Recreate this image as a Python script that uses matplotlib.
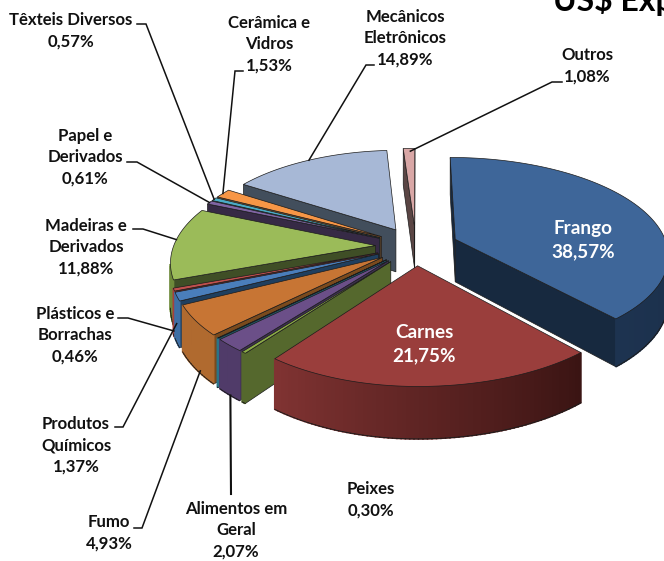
import numpy as np
import matplotlib
matplotlib.use('Agg')
import matplotlib.pyplot as plt

plt.rcParams['font.family'] = ['Lato', 'DejaVu Sans']

# slices, clockwise from the top (the teal one has no label in the original)
names = ['Frango', 'Carnes', 'Peixes', 'Alimentos em\nGeral', '', 'Fumo', 'Produtos\nQuímicos',
         'Plásticos e\nBorrachas', 'Madeiras e\nDerivados', 'Papel e\nDerivados',
         'Têxteis Diversos', 'Cerâmica e\nVidros', 'Mecânicos\nEletrônicos', 'Outros']
values = [38.57, 21.75, 0.30, 2.07, 0.06, 4.93, 1.37, 0.46, 11.88, 0.61, 0.57, 1.53, 14.89, 1.08]
value_labels = ['38,57%', '21,75%', '0,30%', '2,07%', '', '4,93%', '1,37%',
                '0,46%', '11,88%', '0,61%', '0,57%', '1,53%', '14,89%', '1,08%']

top_colors = ['#3E6699', '#9A3E3C', '#8CAB47', '#6B4F88', '#31859C', '#C77534', '#4A7EBB',
              '#C0504D', '#9BBB59', '#8064A2', '#4BACC6', '#F79646', '#A7B8D6', '#D9A7A6']
cut_colors = ['#17293F', '#4A1A18', '#55682D', '#3E2E52', '#1D5566', '#7A4A1D', '#1F3F5F',
              '#6E2A28', '#3F4E26', '#362A45', '#26697A', '#8A5325', '#424E5C', '#5A4544']
wall_start = ['#17293F', '#3A1413', '#55682D', '#503B69', '#2A7488', '#B06A2F', '#3E6FA5',
              '#A5403E', '#6E8A3A', '#5F4A7A', '#3A8CA2', '#C77534', '#6E7F9C', '#B08A89']
wall_end = ['#1D3350', '#803332', '#55682D', '#503B69', '#2A7488', '#B06A2F', '#3E6FA5',
            '#A5403E', '#6E8A3A', '#5F4A7A', '#3A8CA2', '#C77534', '#6E7F9C', '#B08A89']

# pie geometry in pixels
cx, cy = 416, 246
rx_right, rx_left = 212, 202
ry = 96
persp = 0.15
explode = 0.2
depth = 43


def project(px, py, z=0):
    s = 1 / (1 + persp * py)
    rx = rx_right if px > 0 else rx_left
    return cx + rx * px * s, cy - ry * py * s + depth * z * s


def slice_point(mid, theta, r=1.0, z=0):
    px = explode * np.sin(mid) + r * np.sin(theta)
    py = explode * np.cos(mid) + r * np.cos(theta)
    return project(px, py, z)


def area(pts):
    x, y = np.array(pts).T
    return 0.5 * np.sum(x * np.roll(y, -1) - np.roll(x, -1) * y)


def mix(c0, c1, t):
    a = np.array(matplotlib.colors.to_rgb(c0))
    b = np.array(matplotlib.colors.to_rgb(c1))
    return a + (b - a) * t


fig = plt.figure(figsize=(6.64, 5.61), dpi=100)
ax = fig.add_axes([0, 0, 1, 1])
ax.set_xlim(0, 664)
ax.set_ylim(561, 0)
ax.axis('off')

edges = np.cumsum([0] + values) / np.sum(values) * 2 * np.pi
mids = (edges[:-1] + edges[1:]) / 2
line = '#1c1c1c'

# back slices first
for i in np.argsort(-np.cos(mids)):
    th = np.linspace(edges[i], edges[i + 1], max(int(np.degrees(edges[i + 1] - edges[i])), 2) + 1)
    m = mids[i]
    arc_top = [slice_point(m, t) for t in th]
    arc_bot = [slice_point(m, t, z=1) for t in th]
    apex_top = slice_point(m, 0, r=0)
    apex_bot = slice_point(m, 0, r=0, z=1)

    # the two cut faces
    for a, b, ab, bb in [(apex_top, arc_top[0], apex_bot, arc_bot[0]),
                         (arc_top[-1], apex_top, arc_bot[-1], apex_bot)]:
        quad = [a, b, bb, ab]
        if area(quad) < 0:
            ax.fill(*zip(*quad), fc=cut_colors[i], ec=line, lw=0.5, zorder=1)

    # outer wall, in small pieces for the shading
    for k in range(len(th) - 1):
        quad = [arc_top[k], arc_top[k + 1], arc_bot[k + 1], arc_bot[k]]
        if area(quad) < 0:
            c = mix(wall_start[i], wall_end[i], k / max(len(th) - 2, 1))
            ax.fill(*zip(*quad), fc=c, ec=c, lw=1.2, zorder=1)
    for k in range(len(th) - 1):
        quad = [arc_top[k], arc_top[k + 1], arc_bot[k + 1], arc_bot[k]]
        if area(quad) < 0:
            ax.plot(*zip(arc_bot[k], arc_bot[k + 1]), color=line, lw=0.6, zorder=1)

    ax.fill(*zip(*([apex_top] + arc_top)), fc=top_colors[i], ec=line, lw=0.5, zorder=1)

# labels: centre of the text block, then the elbow of the leader line
label_pos = {0: (583, 240), 1: (424, 344), 2: (371, 500), 3: (236, 530), 5: (109, 533),
             6: (76, 445), 7: (75, 335), 8: (86, 247), 9: (85, 157), 10: (71, 31),
             11: (269, 44), 12: (405, 38), 13: (587, 66)}
elbows = {3: [(231, 494)], 5: [(134, 528), (142, 528)], 6: [(115, 427), (123, 427)],
          7: [(118, 318), (128, 318)], 8: [(133, 229), (143, 229)], 9: [(127, 162), (137, 162)],
          10: [(137, 24), (146, 24)], 11: [(243, 71), (235, 71)], 12: [(374, 65), (366, 65)],
          13: [(562, 82), (552, 82)]}
# where on the slice the leader ends: angle share, radius, height
anchors = {3: (0.45, 1.0, 1), 5: (0.35, 1.0, 0.95), 6: (0.6, 1.0, 0.6), 7: (0.5, 1.0, 0.9),
           8: (0.55, 1.0, 0), 9: (0.5, 1.0, 0), 10: (0.5, 1.0, 0), 11: (0.5, 1.0, 0),
           12: (0.5, 1.0, 0), 13: (0.6, 0.96, 0)}

for i, el in elbows.items():
    f, r, z = anchors[i]
    t = edges[i] + f * (edges[i + 1] - edges[i])
    pts = el + [slice_point(mids[i], t, r, z)]
    ax.plot(*zip(*pts), color='#111111', lw=1.5 if i == 3 else 1.1, zorder=3,
            solid_joinstyle='miter')

for i, (x, y) in label_pos.items():
    color = 'white' if i < 2 else '#111111'
    ax.text(x, y, names[i] + '\n' + value_labels[i], ha='center', va='center', color=color,
            fontsize=13.6 if i < 2 else 12.1, fontweight='bold', linespacing=1.4, zorder=4)

ax.text(553, 11, 'US$ Exportações', ha='left', va='baseline', color='black',
        fontsize=23, fontweight='bold', zorder=4)

fig.savefig('out.png', dpi=100)
